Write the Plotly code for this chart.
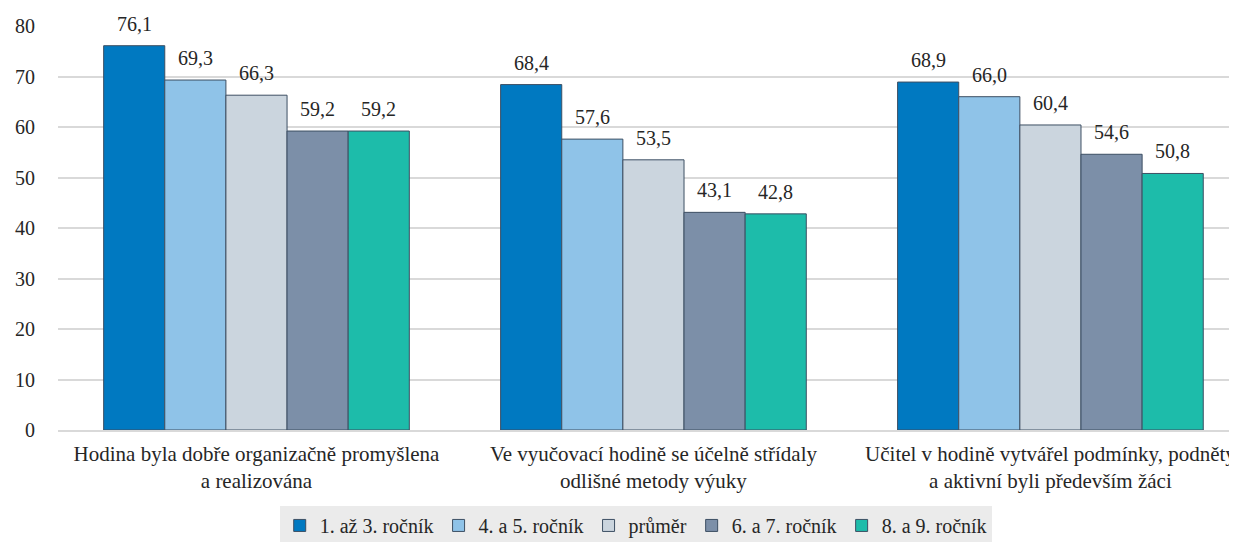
import plotly.graph_objects as go

categories = [
    "Hodina byla dobře organizačně promyšlena<br>a realizována",
    "Ve vyučovací hodině se účelně střídaly<br>odlišné metody výuky",
    "Učitel v hodině vytvářel podmínky, podněty<br>a aktivní byli především žáci",
]
series_names = ["1. až 3. ročník", "4. a 5. ročník", "průměr", "6. a 7. ročník", "8. a 9. ročník"]
values = [
    [76.1, 68.4, 68.9],
    [69.3, 57.6, 66.0],
    [66.3, 53.5, 60.4],
    [59.2, 43.1, 54.6],
    [59.2, 42.8, 50.8],
]
colors = ["#0079c1", "#8fc3e8", "#cbd5de", "#7c8fa8", "#1dbcaa"]
y_ticks = [0, 10, 20, 30, 40, 50, 60, 70, 80]

FONT = "Liberation Serif"
TXT = "#262626"
BARGAP = 0.23

fig = go.Figure()
for name, vals, col in zip(series_names, values, colors):
    fig.add_trace(go.Bar(
        x=categories, y=vals, name=name,
        marker=dict(color=col, line=dict(color="#3d4f63", width=1)),
    ))

# value labels above bars, centred on each bar within its group
n = len(series_names)
bw = (1 - BARGAP) / n
for j, vals in enumerate(values):
    for i, v in enumerate(vals):
        fig.add_annotation(
            x=i - (1 - BARGAP) / 2 + bw * (j + 0.5), y=v, xref="x", yref="y",
            text=f"{v:.1f}".replace(".", ","), showarrow=False,
            yanchor="bottom", yshift=9,
            font=dict(family=FONT, size=20, color=TXT),
        )

fig.update_layout(
    width=1229, height=534,
    barmode="group", bargap=BARGAP, bargroupgap=0,
    plot_bgcolor="white", paper_bgcolor="white",
    margin=dict(l=50, r=0, t=18, b=112, autoexpand=False),
    font=dict(family=FONT, size=20, color=TXT),
    xaxis=dict(range=[-0.5, 2.47], showgrid=False, showline=True, automargin=False,
               linecolor="#d9d9d9", linewidth=1.5, ticklabelstandoff=4,
               tickfont=dict(family=FONT, size=21, color=TXT)),
    yaxis=dict(range=[0, 80], tickvals=y_ticks, showgrid=True, automargin=False,
               gridcolor="#d9d9d9", gridwidth=1.5, zeroline=False,
               tickfont=dict(family=FONT, size=20, color=TXT), ticklabelstandoff=22),
    legend=dict(orientation="h", x=0.49, xanchor="center", y=-0.188, yanchor="top",
                bgcolor="#ebebeb", font=dict(family=FONT, size=20, color=TXT),
                traceorder="normal", itemwidth=30),
    showlegend=True,
)
fig.write_html("out.html")
